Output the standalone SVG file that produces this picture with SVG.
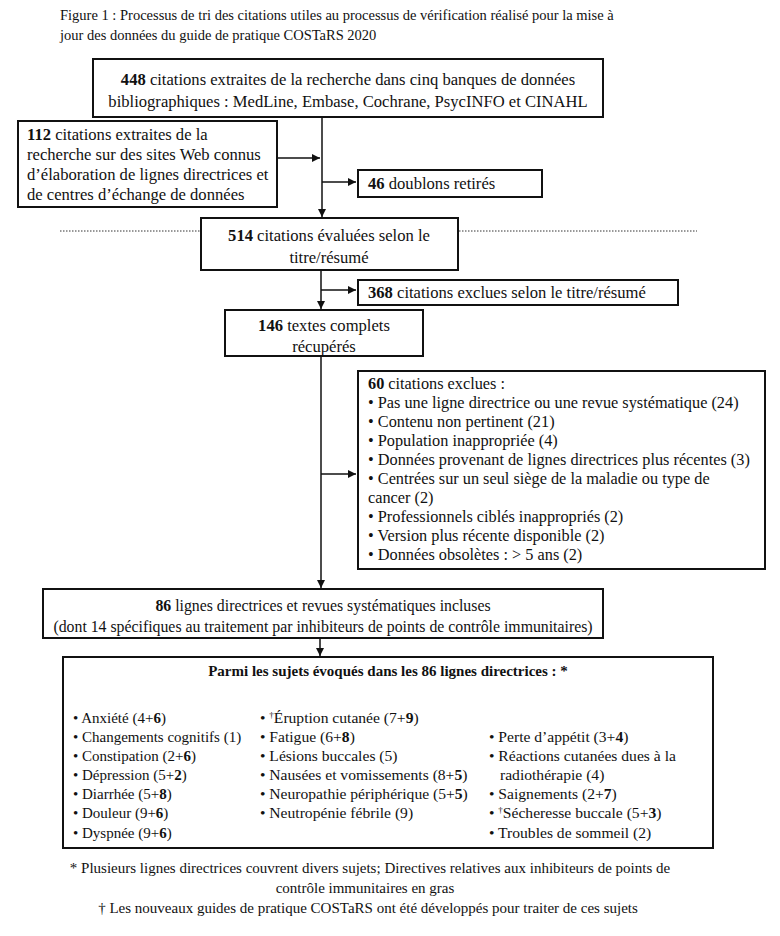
<svg xmlns="http://www.w3.org/2000/svg" width="780" height="936" viewBox="0 0 780 936">
<defs>
<style>
text{font-family:"Liberation Serif","Times New Roman",serif;font-size:15px;fill:#111}
.t{font-size:14.5px}
.u{font-size:16.6px}
.m{font-size:15.8px}
.g{font-size:16.3px}
.k{font-size:15.6px}
.c{text-anchor:middle}
.b{font-weight:bold}
.box{fill:#fff;stroke:#111;stroke-width:2}
.ln{stroke:#111;stroke-width:1.5;fill:none}
.dot{stroke:#333;stroke-width:1;stroke-dasharray:1.5 1.5;fill:none}
.fn{font-size:15px}
</style>
<marker id="ah" viewBox="0 0 10 10" refX="10" refY="5" markerWidth="8" markerHeight="8" markerUnits="userSpaceOnUse" orient="auto">
<path d="M0,0 L10,5 L0,10 z" fill="#111"/>
</marker>
</defs>
<rect width="780" height="936" fill="#fff"/>

<g id="title">
<text class="t" x="60" y="20">Figure 1 : Processus de tri des citations utiles au processus de vérification réalisé pour la mise à</text>
<text class="t" x="60" y="40">jour des données du guide de pratique COSTaRS 2020</text>
</g>

<g id="connectors">
<line class="dot" x1="60" y1="231" x2="200" y2="231"/>
<line class="dot" x1="459" y1="231" x2="697" y2="231"/>
<line class="ln" x1="322" y1="117" x2="322" y2="217" marker-end="url(#ah)"/>
<line class="ln" x1="277" y1="158" x2="320" y2="158" marker-end="url(#ah)"/>
<line class="ln" x1="322" y1="182" x2="356" y2="182" marker-end="url(#ah)"/>
<line class="ln" x1="321" y1="270" x2="321" y2="309" marker-end="url(#ah)"/>
<line class="ln" x1="321" y1="290" x2="356" y2="290" marker-end="url(#ah)"/>
<line class="ln" x1="321" y1="356" x2="321" y2="588" marker-end="url(#ah)"/>
<line class="ln" x1="321" y1="474" x2="356" y2="474" marker-end="url(#ah)"/>
<line class="ln" x1="320" y1="638" x2="320" y2="656" marker-end="url(#ah)"/>
</g>

<g id="n448">
<rect class="box" x="93" y="59" width="510" height="58"/>
<text class="c u" x="348" y="85"><tspan class="b">448</tspan> citations extraites de la recherche dans cinq banques de données</text>
<text class="c u" x="348" y="107">bibliographiques : MedLine, Embase, Cochrane, PsycINFO et CINAHL</text>
</g>

<g id="n112">
<rect class="box" x="18" y="121" width="259" height="86"/>
<text class="u" x="27" y="140"><tspan class="b">112</tspan> citations extraites de la</text>
<text class="u" x="27" y="160">recherche sur des sites Web connus</text>
<text class="u" x="27" y="180">d’élaboration de lignes directrices et</text>
<text class="u" x="27" y="200">de centres d’échange de données</text>
</g>

<g id="n46">
<rect class="box" x="358" y="170" width="184" height="27"/>
<text class="u" x="368" y="189"><tspan class="b">46</tspan> doublons retirés</text>
</g>

<g id="n514">
<rect class="box" x="201" y="218" width="257" height="52"/>
<text class="c u" x="329" y="241"><tspan class="b">514</tspan> citations évaluées selon le</text>
<text class="c u" x="329" y="263">titre/résumé</text>
</g>

<g id="n368">
<rect class="box" x="358" y="280" width="320" height="25"/>
<text class="u" x="368" y="298"><tspan class="b">368</tspan> citations exclues selon le titre/résumé</text>
</g>

<g id="n146">
<rect class="box" x="225" y="310" width="198" height="46"/>
<text class="c u" x="324" y="331"><tspan class="b">146</tspan> textes complets</text>
<text class="c u" x="324" y="352">récupérés</text>
</g>

<g id="n60">
<rect class="box" x="358" y="371" width="407" height="198"/>
<text class="g" x="368" y="389"><tspan class="b">60</tspan> citations exclues :</text>
<text class="g" x="368" y="408">• Pas une ligne directrice ou une revue systématique (24)</text>
<text class="g" x="368" y="427">• Contenu non pertinent (21)</text>
<text class="g" x="368" y="446">• Population inappropriée (4)</text>
<text class="g" x="368" y="465">• Données provenant de lignes directrices plus récentes (3)</text>
<text class="g" x="368" y="484">• Centrées sur un seul siège de la maladie ou type de</text>
<text class="g" x="368" y="503">cancer (2)</text>
<text class="g" x="368" y="522">• Professionnels ciblés inappropriés (2)</text>
<text class="g" x="368" y="541">• Version plus récente disponible (2)</text>
<text class="g" x="368" y="560">• Données obsolètes : &gt; 5 ans (2)</text>
</g>

<g id="n86">
<rect class="box" x="43" y="589" width="560" height="49"/>
<text class="c m" x="323" y="611"><tspan class="b">86</tspan> lignes directrices et revues systématiques incluses</text>
<text class="c m" x="323" y="632">(dont 14 spécifiques au traitement par inhibiteurs de points de contrôle immunitaires)</text>
</g>

<g id="nsujets">
<rect class="box" x="63" y="657" width="650" height="191"/>
<text class="c b" x="388" y="676">Parmi les sujets évoqués dans les 86 lignes directrices : *</text>
<text x="73" y="723">• Anxiété (4+<tspan class="b">6</tspan>)</text>
<text x="73" y="742">• Changements cognitifs (1)</text>
<text x="73" y="761">• Constipation (2+<tspan class="b">6</tspan>)</text>
<text x="73" y="780">• Dépression (5+<tspan class="b">2</tspan>)</text>
<text x="73" y="799">• Diarrhée (5+<tspan class="b">8</tspan>)</text>
<text x="73" y="818">• Douleur (9+<tspan class="b">6</tspan>)</text>
<text x="73" y="838">• Dyspnée (9+<tspan class="b">6</tspan>)</text>
<text class="k" x="260" y="723">• <tspan font-size="9" dy="-5">†</tspan><tspan dy="5">Éruption cutanée (7+</tspan><tspan class="b">9</tspan>)</text>
<text class="k" x="260" y="742">• Fatigue (6+<tspan class="b">8</tspan>)</text>
<text class="k" x="260" y="761">• Lésions buccales (5)</text>
<text class="k" x="260" y="780">• Nausées et vomissements (8+<tspan class="b">5</tspan>)</text>
<text class="k" x="260" y="799">• Neuropathie périphérique (5+<tspan class="b">5</tspan>)</text>
<text class="k" x="260" y="818">• Neutropénie fébrile (9)</text>
<text class="k" x="489" y="742">• Perte d’appétit (3+<tspan class="b">4</tspan>)</text>
<text class="k" x="489" y="761">• Réactions cutanées dues à la</text>
<text class="k" x="500" y="780">radiothérapie (4)</text>
<text class="k" x="489" y="799">• Saignements (2+<tspan class="b">7</tspan>)</text>
<text class="k" x="489" y="818">• <tspan font-size="9" dy="-5">†</tspan><tspan dy="5">Sécheresse buccale (5+</tspan><tspan class="b">3</tspan>)</text>
<text class="k" x="489" y="838">• Troubles de sommeil (2)</text>
</g>

<g id="footnotes">
<text class="c fn" x="370" y="873">* Plusieurs lignes directrices couvrent divers sujets; Directives relatives aux inhibiteurs de points de</text>
<text class="c fn" x="365" y="893">contrôle immunitaires en gras</text>
<text class="c fn" x="368" y="913">† Les nouveaux guides de pratique COSTaRS ont été développés pour traiter de ces sujets</text>
</g>
</svg>
